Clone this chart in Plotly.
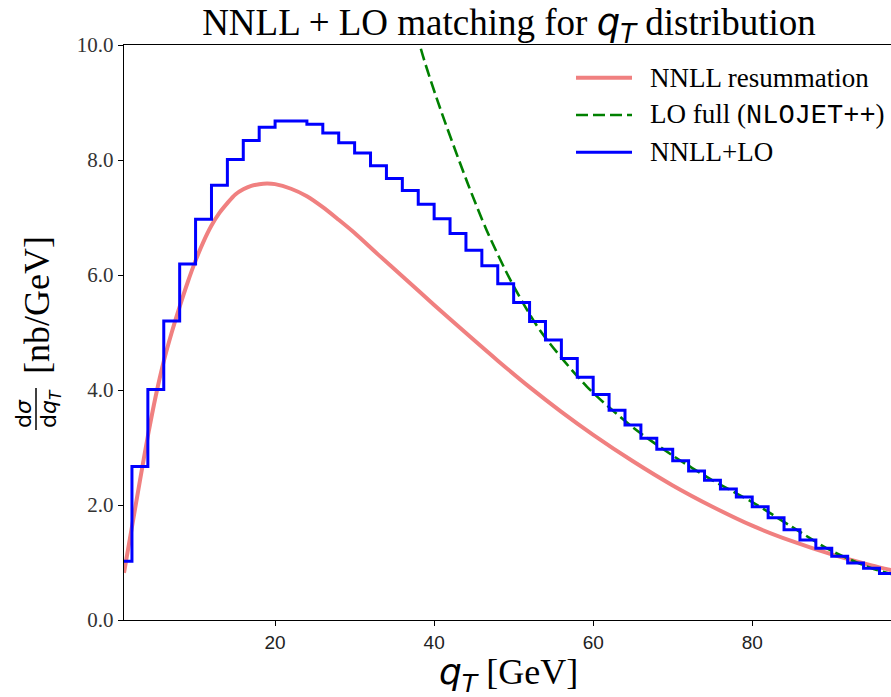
import plotly.graph_objects as go

# ---- data -------------------------------------------------------------
# NNLL+LO matched prediction, 2 GeV bins starting at q_T = 0
bin_edges = list(range(0, 100, 2))
nnll_lo = [1.02, 2.67, 4.01, 5.20, 6.19, 6.97, 7.56, 8.01, 8.34, 8.57,
           8.68, 8.68, 8.62, 8.47, 8.30, 8.12, 7.90, 7.68, 7.47, 7.23,
           6.98, 6.72, 6.43, 6.16, 5.85, 5.52, 5.19, 4.87, 4.55, 4.22,
           3.92, 3.65, 3.39, 3.16, 2.97, 2.77, 2.59, 2.43, 2.28, 2.14,
           1.97, 1.78, 1.57, 1.39, 1.25, 1.11, 0.99, 0.90, 0.81]

# NNLL resummed spectrum
qt_nnll = [1, 2, 3, 4, 5, 6, 7, 8, 9, 10, 11, 12, 13, 14, 15, 16, 17, 18, 19, 20,
           22, 24, 26, 28, 30, 33, 36, 40, 44, 48, 52, 56, 60, 65, 70, 75, 80,
           85, 90, 95, 98]
nnll = [0.82, 1.62, 2.42, 3.20, 3.90, 4.50, 5.00, 5.45, 5.87, 6.25, 6.58, 6.86,
        7.08, 7.25, 7.40, 7.49, 7.55, 7.58, 7.59, 7.58, 7.50, 7.37, 7.18, 6.96,
        6.73, 6.35, 5.98, 5.48, 4.99, 4.51, 4.05, 3.62, 3.22, 2.76, 2.34, 1.97,
        1.64, 1.37, 1.14, 0.95, 0.85]

# fixed-order LO result (NLOJET++)
qt_lo = [37.0, 38.2, 40.4, 44.2, 46.6, 49.6, 53.3, 59.2, 65, 70, 75, 80, 85, 90, 95, 98]
lo = [10.8, 10.0, 9.04, 7.60, 6.78, 5.91, 5.04, 4.06, 3.35, 2.86, 2.43, 2.05,
      1.62, 1.20, 0.90, 0.78]

y_ticks = [0, 2, 4, 6, 8, 10]
x_ticks = [20, 40, 60, 80]

# ---- colours / fonts ----------------------------------------------------
C_NNLL = "#F08080"
C_LO = "#008000"
C_MATCH = "#0000FF"
SERIF = "Liberation Serif"
SANS = "DejaVu Sans"
MONO = "Liberation Mono"

W, H = 891, 697
L, R, T, B = 124, 0, 45, 77
PW, PH = W - L - R, H - T - B


def px_x(xp):
    return (xp - L) / PW


def px_y(yp):
    return (H - B - yp) / PH


fig = go.Figure()

fig.add_trace(go.Scatter(
    x=qt_nnll, y=nnll, mode="lines",
    line=dict(color=C_NNLL, width=4, shape="spline", smoothing=0.8),
    name="NNLL resummation", showlegend=False, hoverinfo="skip"))

fig.add_trace(go.Scatter(
    x=qt_lo, y=lo, mode="lines",
    line=dict(color=C_LO, width=2.6, dash="12px,5px", shape="spline", smoothing=0.8),
    name="LO full (NLOJET++)", showlegend=False, hoverinfo="skip"))

fig.add_trace(go.Scatter(
    x=bin_edges, y=nnll_lo + [nnll_lo[-1]], mode="lines",
    line=dict(color=C_MATCH, width=3, shape="hv"),
    name="NNLL+LO", showlegend=False, hoverinfo="skip"))

# ---- legend (drawn by hand, top right inside the axes) -------------------
legend_rows = [
    ("NNLL resummation", dict(color=C_NNLL, width=4)),
    ("LO full (<span style=\"font-family:'%s'\">NLOJET++</span>)" % MONO,
     dict(color=C_LO, width=2.6, dash="12px,5px")),
    ("NNLL+LO", dict(color=C_MATCH, width=3)),
]
row_y = [77.7, 115.0, 152.3]
shapes = []
annotations = []
for (label, ln), yp in zip(legend_rows, row_y):
    shapes.append(dict(type="line", xref="paper", yref="paper",
                       x0=px_x(576), x1=px_x(632), y0=px_y(yp), y1=px_y(yp),
                       line=ln))
    annotations.append(dict(xref="paper", yref="paper", x=px_x(648), y=px_y(yp),
                            xanchor="left", yanchor="middle", showarrow=False,
                            text=label, font=dict(family=SERIF, size=27, color="black")))

# ---- axis labels --------------------------------------------------------
annotations.append(dict(
    xref="paper", yref="paper", x=px_x(508), y=px_y(675),
    xanchor="center", yanchor="middle", showarrow=False,
    text="<span style=\"font-family:'%s'\"><i>q</i><sub><i>T</i></sub></span> [GeV]" % SANS,
    font=dict(family=SERIF, size=36, color="black")))

# y label: fraction d(sigma)/d(q_T) followed by units, rotated
annotations.append(dict(
    xref="paper", yref="paper", x=px_x(37), y=px_y(305),
    xanchor="center", yanchor="middle", showarrow=False, textangle=-90,
    text="[nb/GeV]", font=dict(family=SERIF, size=36, color="black")))
annotations.append(dict(
    xref="paper", yref="paper", x=px_x(23), y=px_y(414),
    xanchor="center", yanchor="middle", showarrow=False, textangle=-90,
    text="d<i>σ</i>", font=dict(family=SANS, size=22, color="black")))
annotations.append(dict(
    xref="paper", yref="paper", x=px_x(50), y=px_y(409),
    xanchor="center", yanchor="middle", showarrow=False, textangle=-90,
    text="d<i>q</i><sub><i>T</i></sub>", font=dict(family=SANS, size=22, color="black")))
shapes.append(dict(type="line", xref="paper", yref="paper",
                   x0=px_x(36), x1=px_x(36), y0=px_y(388), y1=px_y(430),
                   line=dict(color="black", width=1.5)))

fig.update_layout(
    width=W, height=H,
    margin=dict(l=L, r=R, t=T, b=B, pad=0),
    paper_bgcolor="white", plot_bgcolor="white",
    showlegend=False,
    title=dict(
        text="NNLL + LO matching for <span style=\"font-family:'%s'\"><i>q</i><sub><i>T</i></sub></span> distribution" % SANS,
        x=px_x(509), xref="paper", xanchor="center",
        y=1 - 22 / H, yref="container", yanchor="middle",
        font=dict(family=SERIF, size=37, color="black")),
    shapes=shapes,
    annotations=annotations,
)

fig.update_xaxes(
    range=[1.0, 97.45], tickvals=x_ticks, ticktext=[str(v) for v in x_ticks],
    showgrid=False, zeroline=False, showline=True, linecolor="black", linewidth=1.4,
    mirror=True, ticks="outside", ticklen=5, tickwidth=1.3, tickcolor="black",
    tickfont=dict(family="Liberation Sans", size=19, color="#222222"))

fig.update_yaxes(
    range=[0, 10], tickvals=y_ticks, ticktext=["%.1f" % v for v in y_ticks],
    showgrid=False, zeroline=False, showline=True, linecolor="black", linewidth=1.4,
    mirror=False, ticks="outside", ticklen=5, tickwidth=1.3, tickcolor="black",
    tickfont=dict(family=SERIF, size=21, color="#333333"))

fig.write_html("out.html")
